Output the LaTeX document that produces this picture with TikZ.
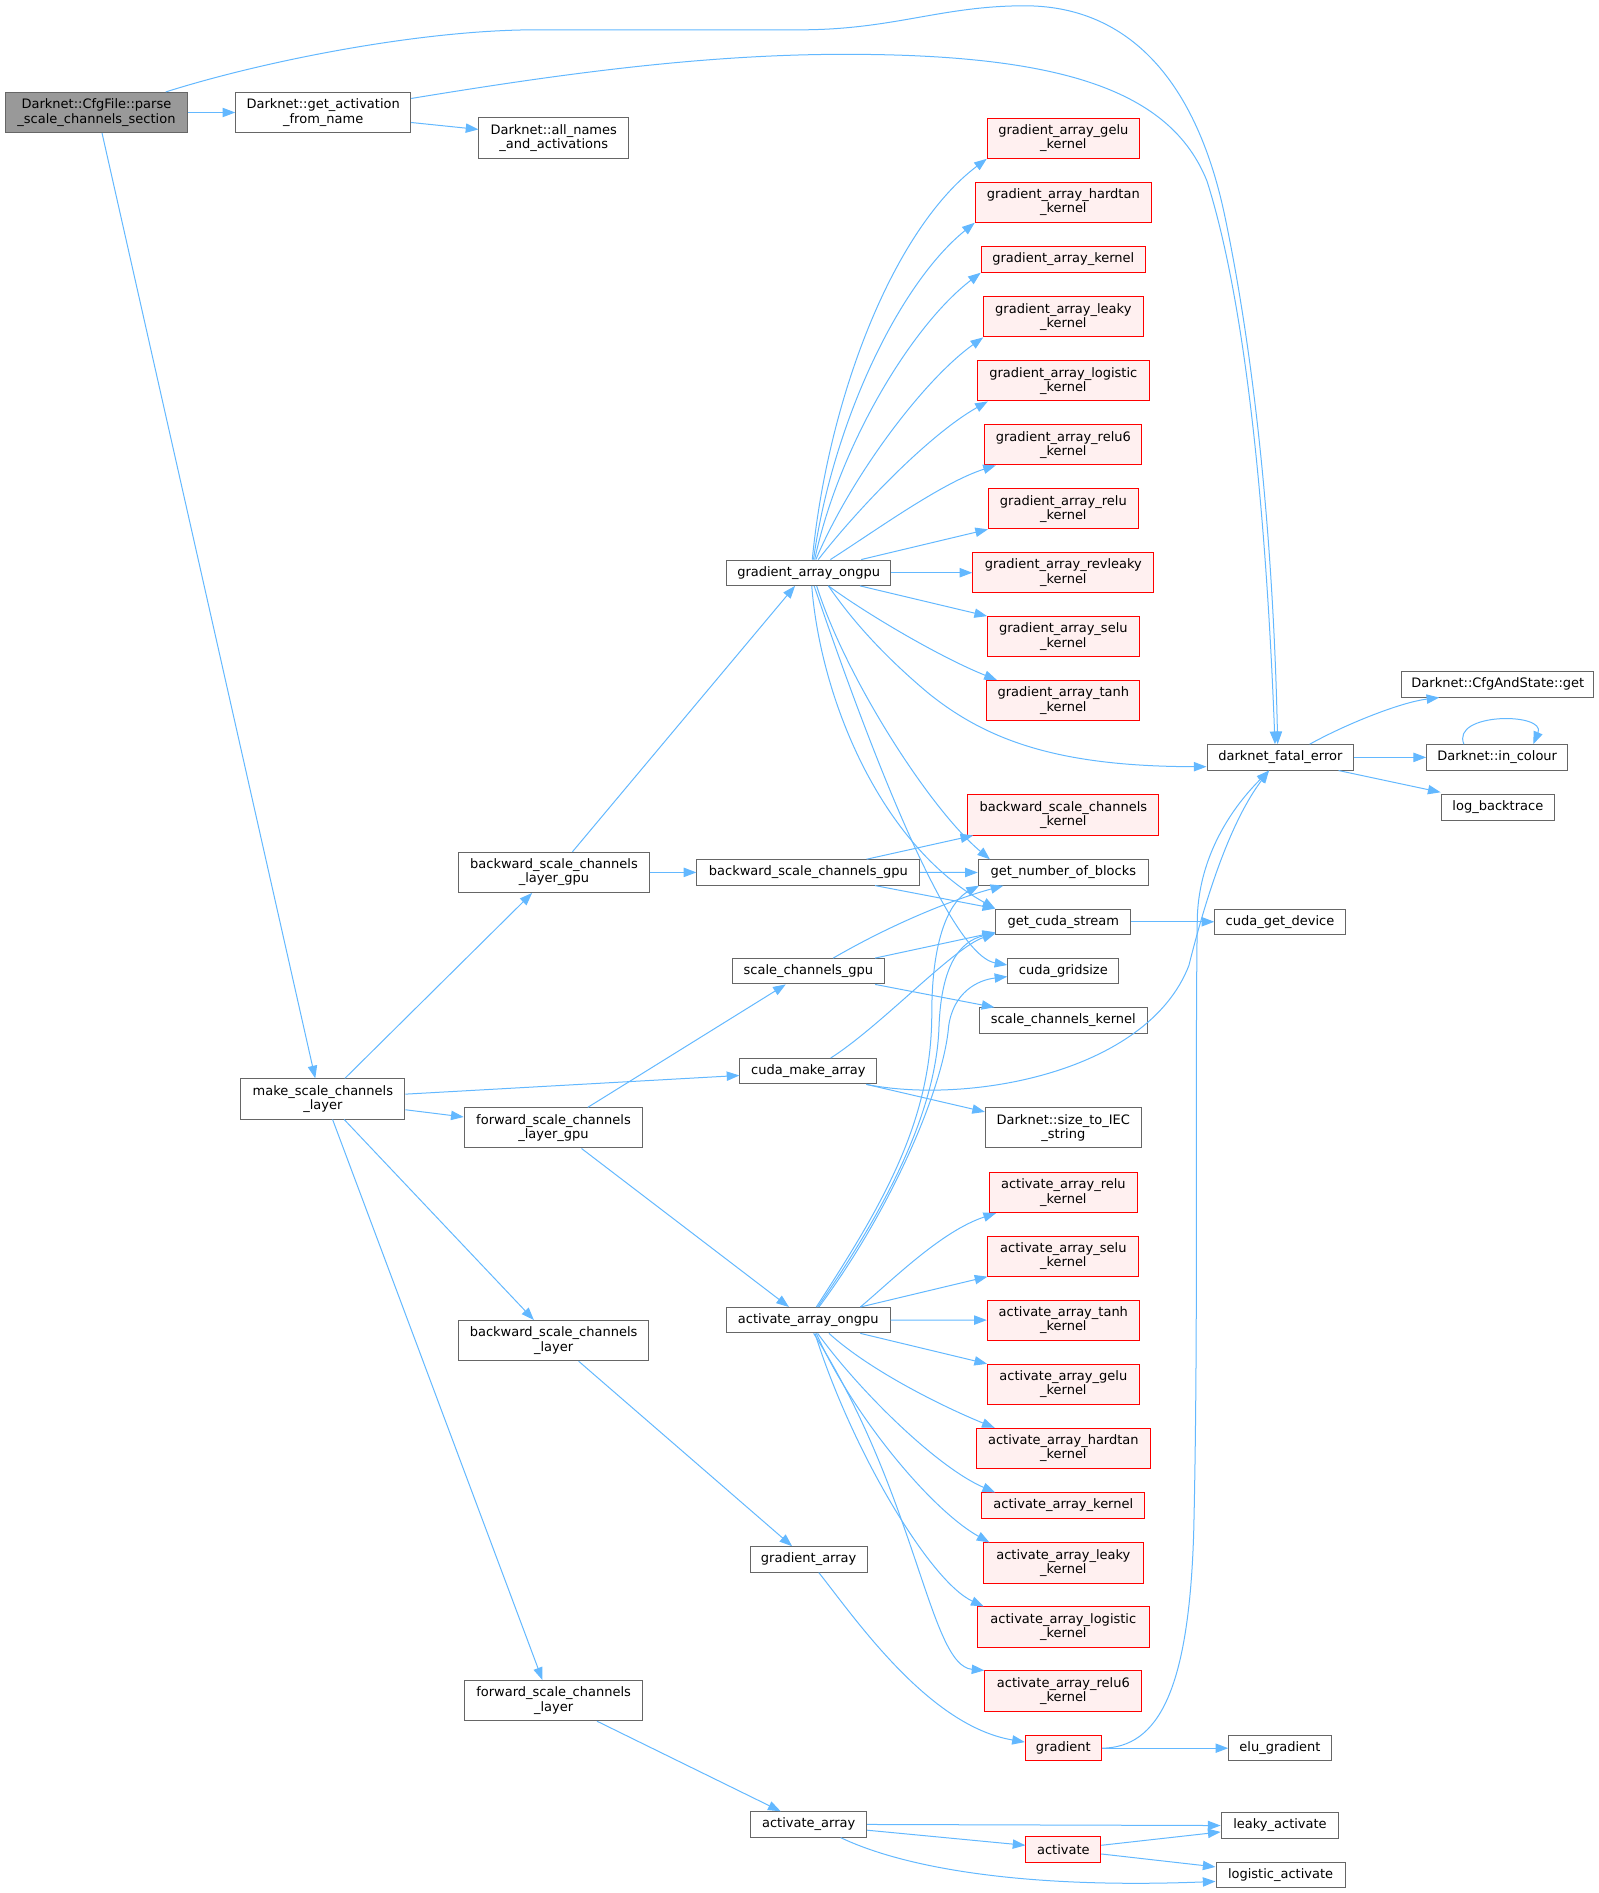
\documentclass[tikz,border=0pt]{standalone}
\usepackage{fontspec}
\setmainfont{DejaVu Sans}
\usetikzlibrary{arrows.meta}
\definecolor{edgec}{HTML}{63B8FF}
\definecolor{bord}{HTML}{666666}
\definecolor{redfill}{HTML}{FFF0F0}
\definecolor{rootfill}{HTML}{999999}
\begin{document}
\begin{tikzpicture}[x=0.905pt,y=-0.905pt,
 fn/.style={draw=bord,fill=white,line width=0.75pt,inner sep=0pt,align=center,font=\fontsize{9.75pt}{10.7pt}\selectfont,minimum height=19pt},
 two/.style={minimum height=30.1pt},
 rd/.style={draw=red,fill=redfill},
 root/.style={fill=rootfill},
 wd/.style={minimum width=#1*0.905pt},
 ar/.style={draw=edgec,line width=0.75pt,-{Triangle[length=9.5pt,width=7pt]}}]
\useasboundingbox (0,0) rectangle (1324.8,1568.4);
% nodes
\node[fn,two,root,wd=151.4] (parse) at (79.9,93.2) {Darknet::CfgFile::parse\\\_scale\_channels\_section};
\node[fn,two,wd=145] (getact) at (267.8,93.2) {Darknet::get\_activation\\\_from\_name};
\node[fn,two,wd=124] (allnames) at (458.8,114.3) {Darknet::all\_names\\\_and\_activations};
\node[fn,wd=136] (grado) at (670,474.5) {gradient\_array\_ongpu};
\node[fn,two,rd,wd=126] (ggelu) at (881,114.5) {gradient\_array\_gelu\\\_kernel};
\node[fn,two,rd,wd=146] (ghard) at (881,167.5) {gradient\_array\_hardtan\\\_kernel};
\node[fn,rd,wd=136] (gker) at (881,215) {gradient\_array\_kernel};
\node[fn,two,rd,wd=132] (gleaky) at (881,262.5) {gradient\_array\_leaky\\\_kernel};
\node[fn,two,rd,wd=142] (glog) at (881,315.5) {gradient\_array\_logistic\\\_kernel};
\node[fn,two,rd,wd=130] (grelusix) at (881,368.5) {gradient\_array\_relu6\\\_kernel};
\node[fn,two,rd,wd=124] (grelu) at (881,421.5) {gradient\_array\_relu\\\_kernel};
\node[fn,two,rd,wd=150] (grev) at (881,474.5) {gradient\_array\_revleaky\\\_kernel};
\node[fn,two,rd,wd=125.5] (gselu) at (881,527.5) {gradient\_array\_selu\\\_kernel};
\node[fn,two,rd,wd=127] (gtanh) at (881,580.4) {gradient\_array\_tanh\\\_kernel};
\node[fn,wd=121.5] (dfe) at (1060.8,627.5) {darknet\_fatal\_error};
\node[fn,wd=159] (cfgget) at (1241,567) {Darknet::CfgAndState::get};
\node[fn,wd=117] (incol) at (1240.5,627.5) {Darknet::in\_colour};
\node[fn,wd=94] (logbt) at (1241,669) {log\_backtrace};
\node[fn,two,rd,wd=158] (bsck) at (881,675.2) {backward\_scale\_channels\\\_kernel};
\node[fn,wd=141] (gnob) at (881,722.9) {get\_number\_of\_blocks};
\node[fn,wd=112] (gcs) at (881,763.7) {get\_cuda\_stream};
\node[fn,wd=108] (cgd) at (1060.5,763.7) {cuda\_get\_device};
\node[fn,wd=92] (cgs) at (881,804.7) {cuda\_gridsize};
\node[fn,wd=139] (sck) at (881,845.5) {scale\_channels\_kernel};
\node[fn,two,wd=129] (iec) at (881,934.5) {Darknet::size\_to\_IEC\\\_string};
\node[fn,two,rd,wd=122.5] (arelu) at (881,988) {activate\_array\_relu\\\_kernel};
\node[fn,two,rd,wd=125] (aselu) at (881,1040.7) {activate\_array\_selu\\\_kernel};
\node[fn,two,rd,wd=126] (atanh) at (881,1093.7) {activate\_array\_tanh\\\_kernel};
\node[fn,two,rd,wd=125.5] (agelu) at (881,1147) {activate\_array\_gelu\\\_kernel};
\node[fn,two,rd,wd=144.6] (ahard) at (881,1200) {activate\_array\_hardtan\\\_kernel};
\node[fn,rd,wd=135] (aker) at (881,1247.4) {activate\_array\_kernel};
\node[fn,two,rd,wd=132] (aleaky) at (881,1295) {activate\_array\_leaky\\\_kernel};
\node[fn,two,rd,wd=142] (alog) at (881,1348) {activate\_array\_logistic\\\_kernel};
\node[fn,two,rd,wd=130] (arelusix) at (881,1401) {activate\_array\_relu6\\\_kernel};
\node[fn,rd,wd=63] (grad) at (881,1448.4) {gradient};
\node[fn,wd=85] (elu) at (1060.5,1448.4) {elu\_gradient};
\node[fn,wd=97.6] (lact) at (1060.5,1512.5) {leaky\_activate};
\node[fn,rd,wd=62] (act) at (881,1532.4) {activate};
\node[fn,wd=107] (logact) at (1061,1553.4) {logistic\_activate};
\node[fn,wd=135.4] (aao) at (669.7,1093.8) {activate\_array\_ongpu};
\node[fn,wd=97] (gradarr) at (670,1292) {gradient\_array};
\node[fn,wd=96] (actarr) at (670,1511.6) {activate\_array};
\node[fn,two,wd=157.7] (bslg) at (459,722.8) {backward\_scale\_channels\\\_layer\_gpu};
\node[fn,wd=184.6] (bsg) at (669.7,722.8) {backward\_scale\_channels\_gpu};
\node[fn,wd=125.6] (scg) at (669.8,804.7) {scale\_channels\_gpu};
\node[fn,wd=113.6] (cma) at (669.8,887.5) {cuda\_make\_array};
\node[fn,two,wd=136] (make) at (267.5,910.5) {make\_scale\_channels\\\_layer};
\node[fn,two,wd=148] (fslg) at (458.6,934.5) {forward\_scale\_channels\\\_layer\_gpu};
\node[fn,two,wd=157.4] (bsl) at (458.7,1110.7) {backward\_scale\_channels\\\_layer};
\node[fn,two,wd=148] (fsl) at (458.7,1409) {forward\_scale\_channels\\\_layer};
% edges
\draw[ar] (parse) -- (getact);
\draw[ar] ([xshift=52pt]parse.north) .. controls (220,50) and (350,24.7) .. (444,24.7) -- (663,24.7) .. controls (740,24.7) and (780,4.8) .. (849,4.8) .. controls (930,4.8) and (990,60) .. (1015,180) .. controls (1040,300) and (1055,450) .. ([xshift=-2pt]dfe.north);
\draw[ar] ([yshift=-4.9pt]getact.north east) .. controls (460,62) and (580,45) .. (700,45) .. controls (880,45) and (970,75) .. (1000,150) .. controls (1035,260) and (1050,450) .. ([xshift=-4pt]dfe.north);
\draw[ar] ([yshift=-7.5pt]getact.east) -- ([yshift=6.4pt]allnames.west);
\draw[ar] ([xshift=4.2pt]parse.south) -- ([xshift=-5.7pt]make.north);
\draw[ar] ([xshift=16.5pt]make.north) -- ([xshift=-16.4pt]bslg.south);
\draw[ar] ([yshift=3.6pt]make.east) -- ([yshift=-3.2pt]cma.west);
\draw[ar] ([yshift=-8.1pt]make.east) -- ([yshift=8.2pt]fslg.west);
\draw[ar] ([xshift=16pt]make.south) -- ([xshift=-14.8pt]bsl.north);
\draw[ar] ([xshift=7.3pt]make.south) -- ([xshift=-8.4pt]fsl.north);
\draw[ar] ([xshift=13.8pt]bslg.north) -- ([xshift=-10.2pt]grado.south);
\draw[ar] (bslg) -- (bsg);
\draw[ar] ([xshift=25.7pt]fslg.north) -- ([xshift=-17pt]scg.south);
\draw[ar] ([xshift=21pt]fslg.south) -- ([xshift=-14.5pt]aao.north);
\draw[ar] ([xshift=18.7pt]bsl.south) -- ([xshift=-12.4pt]gradarr.north);
\draw[ar] ([xshift=32.5pt]fsl.south) -- ([xshift=-21pt]actarr.north);
\draw[ar] ([xshift=7.6pt]gradarr.south) .. controls (710,1343) and (770,1430) .. ([yshift=4.6pt]grad.west);
\draw[ar] (grad.east) .. controls (960,1448) and (985,1400) .. (989,1270) .. controls (993,1100) and (990,900) .. (992,760) .. controls (994,700) and (1030,660) .. ([xshift=-8.5pt]dfe.south);
\draw[ar] (grad) -- (elu);
\draw[ar] (actarr.east) -- (lact.west);
\draw[ar] ([yshift=-4.3pt]actarr.east) -- ([yshift=3.2pt]act.west);
\draw[ar] ([xshift=24pt]actarr.south) .. controls (750,1548) and (850,1565) .. ([yshift=-4.9pt]logact.west);
\draw[ar] ([yshift=3.2pt]act.east) -- ([yshift=-4.8pt]lact.west);
\draw[ar] ([yshift=-3.3pt]act.east) -- ([yshift=6pt]logact.west);
\draw[ar] ([xshift=43.4pt]cma.south) .. controls (800,915) and (950,890) .. (985,800) .. controls (1000,740) and (1020,680) .. ([xshift=-8.5pt]dfe.south);
\draw[ar] ([xshift=43.4pt]cma.south) -- ([yshift=12pt]iec.west);
\draw[ar] ([xshift=16.7pt]cma.north) .. controls (730,850) and (790,785) .. ([yshift=1pt]gcs.south west);
\draw[ar] ([xshift=18.6pt]scg.north) .. controls (740,765) and (790,745) .. ([xshift=-45pt]gnob.south);
\draw[ar] ([xshift=50pt]scg.north) -- ([yshift=2pt]gcs.south west);
\draw[ar] ([xshift=50pt]scg.south) -- ([xshift=11.6pt]sck.north west);
\draw[ar] ([xshift=43.7pt]bsg.north) -- ([xshift=4.3pt]bsck.south west);
\draw[ar] (bsg) -- (gnob);
\draw[ar] ([xshift=50pt]bsg.south) -- (gcs.north west);
\draw[ar] ([xshift=14.8pt]grado.south) .. controls (710,520) and (740,550) .. (770,575) .. controls (820,615) and (880,635) .. ([yshift=-7pt]dfe.west);
\draw[ar] ([xshift=6pt]grado.south) .. controls (700,560) and (770,670) .. ([xshift=-55pt]gnob.north);
\draw[ar] ([xshift=2.3pt]grado.south) .. controls (680,580) and (730,700) .. (gcs.north west);
\draw[ar] ([xshift=4.1pt]grado.south) .. controls (700,560) and (780,790) .. ([yshift=4.7pt]cgs.west);
\draw[ar] ([xshift=2.7pt]grado.north) .. controls (686,330) and (740,190) .. (ggelu.south west);
\draw[ar] ([xshift=3.6pt]grado.north) .. controls (690,350) and (745,235) .. (ghard.south west);
\draw[ar] ([xshift=4.5pt]grado.north) .. controls (695,370) and (755,270) .. (gker.south west);
\draw[ar] ([xshift=5.4pt]grado.north) .. controls (705,395) and (765,315) .. (gleaky.south west);
\draw[ar] ([xshift=7.2pt]grado.north) .. controls (712,420) and (770,360) .. ([xshift=8pt]glog.south west);
\draw[ar] ([xshift=16.3pt]grado.north) .. controls (725,440) and (780,400) .. ([xshift=8.6pt]grelusix.south west);
\draw[ar] ([xshift=39.4pt]grado.north) -- (grelu.south west);
\draw[ar] (grado) -- (grev);
\draw[ar] ([xshift=38.5pt]grado.south) -- (gselu.north west);
\draw[ar] ([xshift=14.8pt]grado.south) .. controls (720,510) and (780,545) .. ([xshift=8pt]gtanh.north west);
\draw[ar] ([xshift=39pt]aao.north) .. controls (740,1060) and (780,1020) .. ([xshift=5.4pt]arelu.south west);
\draw[ar] ([xshift=39pt]aao.north) -- (aselu.south west);
\draw[ar] (aao) -- (atanh);
\draw[ar] ([xshift=39pt]aao.south) -- (agelu.north west);
\draw[ar] ([xshift=15.5pt]aao.south) .. controls (720,1135) and (780,1165) .. ([xshift=14.3pt]ahard.north west);
\draw[ar] ([xshift=7pt]aao.south) .. controls (710,1150) and (775,1215) .. ([xshift=10.3pt]aker.north west);
\draw[ar] ([xshift=6pt]aao.south) .. controls (705,1170) and (770,1250) .. ([xshift=4.7pt]aleaky.north west);
\draw[ar] ([xshift=5pt]aao.south) .. controls (705,1200) and (770,1310) .. ([xshift=4.9pt]alog.north west);
\draw[ar] ([xshift=4pt]aao.south) .. controls (760,1240) and (770,1380) .. (arelusix.north west);
\draw[ar] ([xshift=6pt]aao.north) .. controls (730,1000) and (772,930) .. (772,840) .. controls (772,770) and (790,745) .. ([xshift=1pt]gnob.south west);
\draw[ar] ([xshift=7pt]aao.north) .. controls (735,1000) and (776,920) .. (778,850) .. controls (780,800) and (795,780) .. ([yshift=1.5pt]gcs.south west);
\draw[ar] ([xshift=8pt]aao.north) .. controls (740,1000) and (782,900) .. (786,850) .. controls (790,822) and (810,812) .. ([yshift=-4pt]cgs.west);
\draw[ar] ([xshift=22pt]dfe.north) .. controls (1115,600) and (1160,582) .. ([xshift=28.4pt]cfgget.south west);
\draw[ar] (dfe) -- (incol);
\draw[ar] ([xshift=-11.7pt]dfe.south east) -- ([yshift=1.5pt]logbt.north west);
\draw[ar] ([xshift=-25pt]incol.north) .. controls +(-10pt,24pt) and +(10pt,24pt) .. ([xshift=27pt]incol.north);
\draw[ar] (gcs) -- (cgd);
\end{tikzpicture}
\end{document}
